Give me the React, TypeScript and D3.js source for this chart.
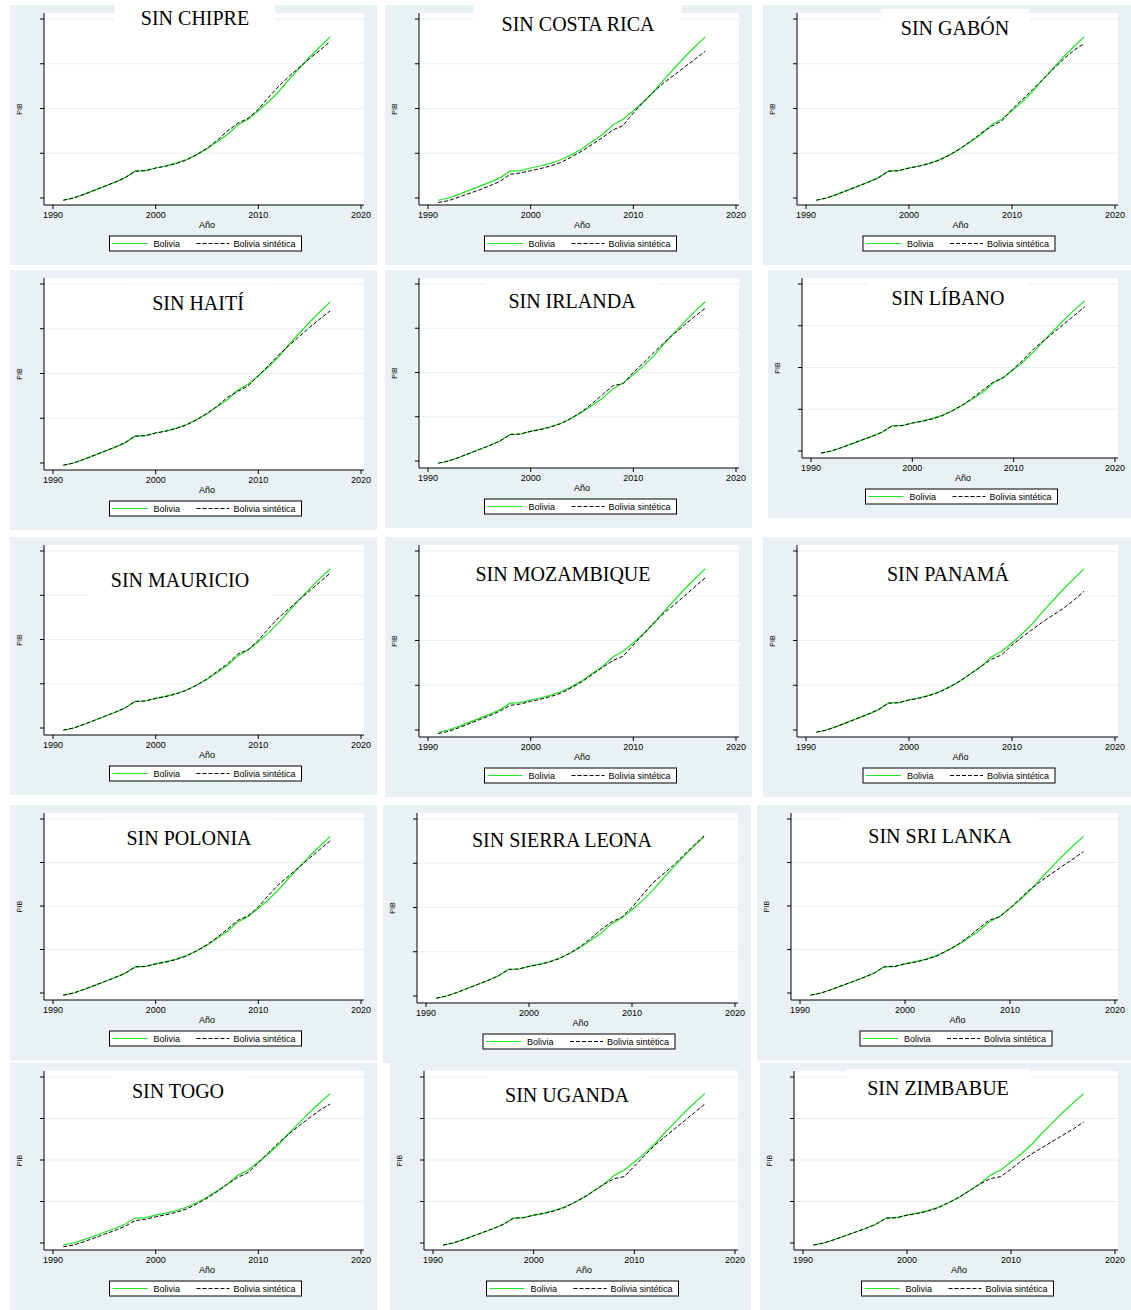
import React from "react";
import * as d3 from "d3";

const years = d3.range(1991, 2018);
const bolivia = [-0.05,0,0.08,0.17,0.26,0.35,0.45,0.6,0.61,0.67,0.72,0.78,0.86,0.97,1.1,1.26,1.42,1.63,1.76,1.95,2.15,2.38,2.65,2.9,3.15,3.38,3.6];

const synChipre = [-0.05,0,0.08,0.17,0.26,0.35,0.45,0.6,0.61,0.67,0.71,0.77,0.85,0.97,1.11,1.29,1.5,1.67,1.78,1.98,2.25,2.5,2.72,2.92,3.12,3.3,3.5];
const synCosta = [-0.1,-0.06,0.02,0.1,0.18,0.27,0.37,0.53,0.56,0.61,0.66,0.72,0.8,0.92,1.05,1.2,1.35,1.52,1.62,1.9,2.15,2.38,2.58,2.75,2.93,3.1,3.28];
const synGabon = [-0.05,0,0.08,0.17,0.26,0.35,0.45,0.6,0.61,0.67,0.71,0.77,0.85,0.97,1.11,1.27,1.45,1.6,1.72,1.98,2.2,2.42,2.65,2.88,3.1,3.3,3.45];
const synHaiti = [-0.05,0,0.08,0.17,0.26,0.35,0.45,0.6,0.61,0.67,0.71,0.77,0.85,0.97,1.11,1.27,1.47,1.6,1.72,1.95,2.18,2.42,2.63,2.83,3.03,3.22,3.4];
const synIrlanda = [-0.05,0,0.08,0.17,0.26,0.35,0.45,0.6,0.61,0.67,0.71,0.77,0.85,0.97,1.12,1.3,1.5,1.7,1.75,2.0,2.22,2.45,2.68,2.88,3.08,3.27,3.45];
const synLibano = [-0.05,0,0.08,0.17,0.26,0.35,0.45,0.6,0.61,0.67,0.71,0.77,0.85,0.97,1.11,1.28,1.47,1.65,1.76,1.97,2.2,2.45,2.65,2.85,3.05,3.25,3.45];
const synMauricio = [-0.05,0,0.08,0.17,0.26,0.35,0.45,0.6,0.61,0.67,0.71,0.77,0.85,0.97,1.11,1.28,1.45,1.67,1.77,1.98,2.25,2.5,2.7,2.9,3.1,3.3,3.5];
const synMozambique = [-0.08,-0.03,0.05,0.14,0.23,0.32,0.42,0.55,0.58,0.64,0.69,0.75,0.83,0.95,1.08,1.24,1.4,1.55,1.65,1.9,2.15,2.4,2.62,2.8,3.0,3.2,3.4];
const synPanama = [-0.05,0,0.08,0.17,0.26,0.35,0.45,0.6,0.61,0.67,0.71,0.77,0.85,0.97,1.1,1.26,1.42,1.58,1.68,1.9,2.08,2.25,2.42,2.57,2.72,2.9,3.1];
const synPolonia = [-0.05,0,0.08,0.17,0.26,0.35,0.45,0.6,0.61,0.67,0.71,0.77,0.85,0.97,1.11,1.28,1.47,1.67,1.77,1.98,2.25,2.5,2.7,2.9,3.1,3.3,3.5];
const synSierra = [-0.05,0,0.08,0.17,0.26,0.35,0.45,0.6,0.61,0.67,0.71,0.77,0.85,0.97,1.12,1.3,1.5,1.67,1.78,2.0,2.28,2.55,2.75,2.95,3.18,3.4,3.62];
const synSriLanka = [-0.05,0,0.08,0.17,0.26,0.35,0.45,0.6,0.61,0.67,0.71,0.77,0.85,0.97,1.11,1.28,1.48,1.67,1.75,1.95,2.18,2.4,2.58,2.75,2.92,3.08,3.25];
const synTogo = [-0.09,-0.05,0.03,0.12,0.21,0.3,0.4,0.54,0.57,0.63,0.68,0.74,0.82,0.94,1.08,1.24,1.42,1.58,1.7,1.93,2.18,2.42,2.63,2.83,3.02,3.2,3.35];
const synUganda = [-0.05,0,0.08,0.17,0.26,0.35,0.45,0.6,0.61,0.67,0.71,0.77,0.85,0.97,1.1,1.26,1.42,1.55,1.6,1.85,2.1,2.35,2.55,2.75,2.95,3.15,3.35];
const synZimbabue = [-0.05,0,0.08,0.17,0.26,0.35,0.45,0.6,0.61,0.67,0.71,0.77,0.85,0.97,1.1,1.26,1.42,1.55,1.6,1.78,1.98,2.15,2.3,2.45,2.6,2.75,2.92];

const titles = ["SIN CHIPRE","SIN COSTA RICA","SIN GABÓN","SIN HAITÍ","SIN IRLANDA","SIN LÍBANO","SIN MAURICIO","SIN MOZAMBIQUE","SIN PANAMÁ","SIN POLONIA","SIN SIERRA LEONA","SIN SRI LANKA","SIN TOGO","SIN UGANDA","SIN ZIMBABUE"];
const synthetic = [synChipre,synCosta,synGabon,synHaiti,synIrlanda,synLibano,synMauricio,synMozambique,synPanama,synPolonia,synSierra,synSriLanka,synTogo,synUganda,synZimbabue];
const xTicks = [1990, 2000, 2010, 2020];
const yTicks = [0, 1, 2, 3, 4];

// layout: [x, y, w, h, titleCx, titleBaseline]
const layout = [
  [10,5,367,260,185,20],[385,5,367,260,193,26],[763,5,368,260,192,30],
  [10,270,367,260,188,40],[385,270,367,258,187,38],[768,270,363,248,180,35],
  [10,537,367,258,170,50],[385,537,367,260,178,44],[763,537,368,260,185,44],
  [10,805,367,255,179,40],[383,805,368,258,179,42],[757,805,374,255,183,38],
  [10,1063,367,247,168,35],[390,1063,361,247,177,39],[760,1063,371,247,178,32],
];

const sans = "Liberation Sans, Arial, sans-serif";

function Panel({ i }: { i: number }) {
  const [px, py, w, h, tcx, tby] = layout[i];
  const axisX = 34;
  const x = d3.scaleLinear().domain([1990, 2020]).range([43, w - 16]);
  const y = d3.scaleLinear().domain([0, 4]).range([h - 67, 14]);
  const axisY = h - 60;
  const line = (vals: number[]) =>
    d3.line<number>().x((_, k) => x(years[k])).y((v) => y(v))(vals) || "";
  const title = titles[i];
  const tw = title.length * 12 + 40;
  const legW = 192, legX = w / 2 - 84, legY = h - 29;
  return (
    <g transform={`translate(${px},${py})`}>
      <rect x={0} y={0} width={w} height={h} fill="#eaf1f4" />
      <rect x={axisX} y={8} width={w - 13 - axisX} height={axisY - 8} fill="#fff" />
      {yTicks.slice(1).map((t) => (
        <line key={t} x1={axisX} x2={w - 13} y1={y(t)} y2={y(t)} stroke="#e6eef2" strokeWidth={1} />
      ))}
      <rect x={tcx - tw / 2} y={Math.max(0, tby - 26)} width={tw} height={Math.min(tby + 10, 36)} fill="#fff" />
      <text x={tcx} y={tby} textAnchor="middle" fontFamily="Liberation Serif, Times New Roman, serif" fontSize={20} fill="#000">{title}</text>
      <line x1={axisX} x2={axisX} y1={8} y2={axisY} stroke="#000" />
      <line x1={axisX} x2={w - 13} y1={axisY} y2={axisY} stroke="#000" />
      {yTicks.map((t) => (
        <line key={t} x1={axisX - 4} x2={axisX} y1={y(t)} y2={y(t)} stroke="#000" />
      ))}
      {xTicks.map((t) => (
        <g key={t}>
          <line x1={x(t)} x2={x(t)} y1={axisY} y2={axisY + 4} stroke="#000" />
          <text x={x(t)} y={axisY + 13} textAnchor="middle" fontFamily={sans} fontSize={9}>{t}</text>
        </g>
      ))}
      <text x={(43 + w - 16) / 2} y={axisY + 23} textAnchor="middle" fontFamily={sans} fontSize={9}>Año</text>
      <text transform={`translate(12,${(8 + axisY) / 2}) rotate(-90)`} textAnchor="middle" fontFamily={sans} fontSize={7}>PIB</text>
      <path d={line(bolivia)} fill="none" stroke="#22e622" strokeWidth={1.2} />
      <path d={line(synthetic[i])} fill="none" stroke="#000" strokeWidth={1} strokeDasharray="4,2" />
      <rect x={legX} y={legY} width={legW} height={15} fill="#fff" stroke="#000" strokeWidth={1} />
      <line x1={legX + 3} x2={legX + 38} y1={legY + 7.5} y2={legY + 7.5} stroke="#22e622" strokeWidth={1.2} />
      <text x={legX + 44} y={legY + 11} fontFamily={sans} fontSize={9}>Bolivia</text>
      <line x1={legX + 87} x2={legX + 120} y1={legY + 7.5} y2={legY + 7.5} stroke="#000" strokeDasharray="4,2" />
      <text x={legX + 124} y={legY + 11} fontFamily={sans} fontSize={9}>Bolivia sintética</text>
    </g>
  );
}

export default function App() {
  return (
    <svg width={1131} height={1310} style={{ position: "absolute", left: 0, top: 0, background: "#fff" }}>
      {titles.map((_, i) => <Panel key={i} i={i} />)}
    </svg>
  );
}
